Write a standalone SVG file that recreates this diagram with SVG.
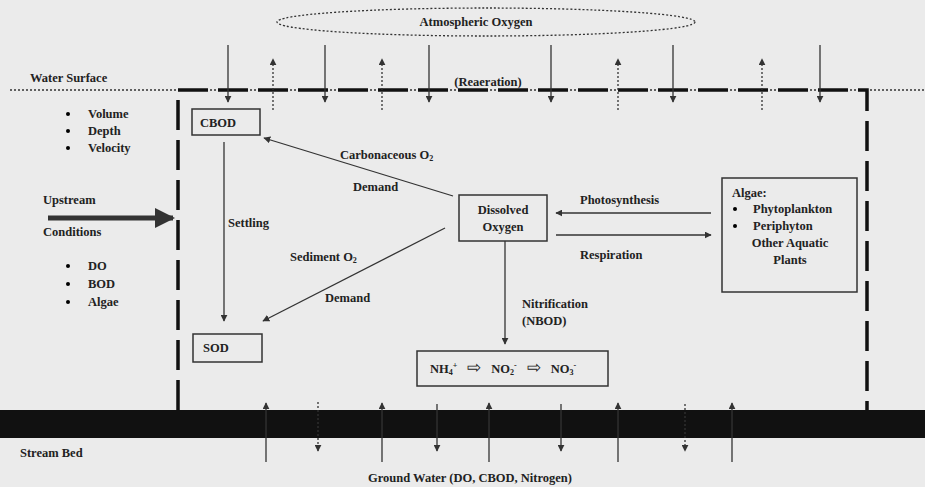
<svg xmlns="http://www.w3.org/2000/svg" width="925" height="487" viewBox="0 0 925 487">
<style>
text{font-family:"Liberation Serif","Times New Roman",serif;font-weight:bold;font-size:12.5px;fill:#222}
.box{fill:none;stroke:#333;stroke-width:1.5}
.ln{stroke:#333;stroke-width:1.3;fill:none}
.dot{stroke:#333;stroke-width:1.3;fill:none;stroke-dasharray:2 2}
.bnd{stroke:#111;stroke-width:3.5;fill:none;stroke-dasharray:30 10}
</style>
<defs>
<marker id="ah" viewBox="0 0 10 10" refX="9" refY="5" markerWidth="7" markerHeight="7" orient="auto-start-reverse" markerUnits="userSpaceOnUse"><path d="M0,0L10,5L0,10z" fill="#333"/></marker>
<marker id="ahb" viewBox="0 0 10 10" refX="9" refY="5" markerWidth="4" markerHeight="4" orient="auto" markerUnits="strokeWidth"><path d="M0,0L10,5L0,10z" fill="#333"/></marker>
</defs>
<rect width="925" height="487" fill="#ebebeb"/>

<g id="atmosphere">
<ellipse cx="486" cy="22" rx="209" ry="14" class="dot"/>
<text x="476" y="26" text-anchor="middle">Atmospheric Oxygen</text>
</g>

<g id="water-surface">
<line x1="10" y1="90" x2="925" y2="90" class="dot" stroke-width="1"/>
<text x="30" y="82">Water Surface</text>
<text x="488" y="86" text-anchor="middle">(Reaeration)</text>
</g>

<g id="boundary">
<path d="M178,410 V90 H867 V410" class="bnd"/>
</g>

<g id="stream-bed">
<rect x="0" y="410" width="925" height="28" fill="#111"/>
<text x="20" y="457">Stream Bed</text>
<text x="470" y="482" text-anchor="middle">Ground Water (DO, CBOD, Nitrogen)</text>
</g>

<g id="left-info">
<circle cx="68" cy="114" r="2"/><text x="88" y="118">Volume</text>
<circle cx="68" cy="131" r="2"/><text x="88" y="135">Depth</text>
<circle cx="68" cy="148" r="2"/><text x="88" y="152">Velocity</text>
<text x="43" y="204">Upstream</text>
<text x="43" y="236">Conditions</text>
<circle cx="68" cy="266" r="2"/><text x="88" y="270">DO</text>
<circle cx="68" cy="284" r="2"/><text x="88" y="288">BOD</text>
<circle cx="68" cy="302" r="2"/><text x="88" y="306">Algae</text>
</g>

<g id="cbod"><rect x="192" y="109" width="68" height="26" class="box"/><text x="200" y="127">CBOD</text></g>
<g id="sod"><rect x="193" y="334" width="69" height="28" class="box"/><text x="203" y="352">SOD</text></g>
<g id="dissolved-oxygen"><rect x="459" y="195" width="88" height="46" class="box"/><text x="503" y="214" text-anchor="middle">Dissolved</text><text x="503" y="231" text-anchor="middle">Oxygen</text></g>
<g id="algae"><rect x="722" y="178" width="135" height="114" class="box"/>
<text x="732" y="197">Algae:</text>
<circle cx="735" cy="209" r="2"/><text x="753" y="213">Phytoplankton</text>
<circle cx="735" cy="226" r="2"/><text x="753" y="230">Periphyton</text>
<text x="790" y="247" text-anchor="middle">Other Aquatic</text>
<text x="790" y="264" text-anchor="middle">Plants</text>
</g>
<g id="nitrogen"><rect x="417" y="351" width="191" height="35" class="box"/>
<text x="430" y="373">NH<tspan font-size="8" dy="2">4</tspan><tspan font-size="8" dy="-7">+</tspan><tspan dy="5" dx="10" font-size="17" font-weight="normal">⇨</tspan><tspan dx="10">NO</tspan><tspan font-size="8" dy="2">2</tspan><tspan font-size="8" dy="-7">-</tspan><tspan dy="5" dx="10" font-size="17" font-weight="normal">⇨</tspan><tspan dx="10">NO</tspan><tspan font-size="8" dy="2">3</tspan><tspan font-size="8" dy="-7">-</tspan></text>
</g>

<g id="connectors">
<line x1="48" y1="218" x2="173" y2="218" stroke="#333" stroke-width="5" marker-end="url(#ahb)"/>
<line x1="224" y1="142" x2="224" y2="321" class="ln" marker-end="url(#ah)"/>
<line x1="453" y1="196" x2="264" y2="138" class="ln" marker-end="url(#ah)"/>
<line x1="445" y1="228" x2="263" y2="321" class="ln" marker-end="url(#ah)"/>
<line x1="711" y1="213" x2="556" y2="213" class="ln" marker-end="url(#ah)"/>
<line x1="556" y1="235" x2="711" y2="235" class="ln" marker-end="url(#ah)"/>
<line x1="505" y1="241" x2="505" y2="344" class="ln" marker-end="url(#ah)"/>
<line x1="228" y1="45" x2="228" y2="102" class="ln" marker-end="url(#ah)"/>
<line x1="325" y1="45" x2="325" y2="102" class="ln" marker-end="url(#ah)"/>
<line x1="429" y1="45" x2="429" y2="102" class="ln" marker-end="url(#ah)"/>
<line x1="551" y1="45" x2="551" y2="102" class="ln" marker-end="url(#ah)"/>
<line x1="673" y1="45" x2="673" y2="102" class="ln" marker-end="url(#ah)"/>
<line x1="820" y1="45" x2="820" y2="102" class="ln" marker-end="url(#ah)"/>
<line x1="273" y1="110" x2="273" y2="59" class="dot" marker-end="url(#ah)"/>
<line x1="382" y1="110" x2="382" y2="59" class="dot" marker-end="url(#ah)"/>
<line x1="618" y1="110" x2="618" y2="59" class="dot" marker-end="url(#ah)"/>
<line x1="762" y1="110" x2="762" y2="59" class="dot" marker-end="url(#ah)"/>
<line x1="266" y1="462" x2="266" y2="403" class="ln" marker-end="url(#ah)"/>
<line x1="382" y1="462" x2="382" y2="403" class="ln" marker-end="url(#ah)"/>
<line x1="489" y1="462" x2="489" y2="403" class="ln" marker-end="url(#ah)"/>
<line x1="618" y1="462" x2="618" y2="403" class="ln" marker-end="url(#ah)"/>
<line x1="732" y1="462" x2="732" y2="403" class="ln" marker-end="url(#ah)"/>
<line x1="318" y1="402" x2="318" y2="451" class="dot" marker-end="url(#ah)"/>
<line x1="437" y1="404" x2="437" y2="451" class="ln" marker-end="url(#ah)"/>
<line x1="561" y1="404" x2="561" y2="451" class="ln" marker-end="url(#ah)"/>
<line x1="685" y1="404" x2="685" y2="451" class="dot" marker-end="url(#ah)"/>
</g>

<g id="labels">
<text x="340" y="159">Carbonaceous O<tspan font-size="8" dy="2">2</tspan></text>
<text x="353" y="191">Demand</text>
<text x="290" y="261">Sediment O<tspan font-size="8" dy="2">2</tspan></text>
<text x="325" y="302">Demand</text>
<text x="228" y="227">Settling</text>
<text x="580" y="204">Photosynthesis</text>
<text x="580" y="259">Respiration</text>
<text x="522" y="308">Nitrification</text>
<text x="522" y="325">(NBOD)</text>
</g>
</svg>
